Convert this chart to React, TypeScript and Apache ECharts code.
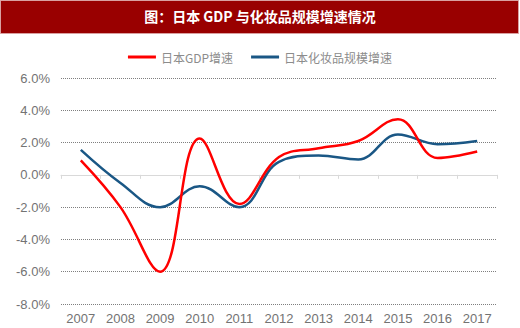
import React, { useEffect, useRef } from "react";
import * as echarts from "echarts";

const years = ["2007", "2008", "2009", "2010", "2011", "2012", "2013", "2014", "2015", "2016", "2017"];
const gdpGrowth = [0.9, -2.0, -6.0, 2.25, -1.8, 1.1, 1.65, 2.1, 3.45, 1.05, 1.45];
const cosmeticsGrowth = [1.55, -0.5, -2.0, -0.7, -2.0, 0.8, 1.2, 0.95, 2.5, 1.9, 2.1];
const titleText = "图：日本 GDP 与化妆品规模增速情况";
const seriesNames = ["日本GDP增速", "日本化妆品规模增速"];

export default function App() {
  const ref = useRef<HTMLDivElement>(null);
  useEffect(() => {
    if (!ref.current) return;
    const chart = echarts.init(ref.current, null, { renderer: "svg" });
    chart.setOption({
      animation: false,
      backgroundColor: "#ffffff",
      graphic: [
        { type: "rect", left: 0, top: 0, shape: { width: 518, height: 33 }, style: { fill: "#990000", stroke: "#d9a0a0", lineWidth: 1 } },
        {
          type: "text",
          left: "center",
          top: 9,
          style: { text: titleText, fill: "#ffffff", font: "bold 14px 'Noto Sans CJK SC', sans-serif" },
        },
      ],
      legend: {
        top: 46,
        left: "center",
        itemWidth: 28,
        itemHeight: 3,
        itemGap: 18,
        icon: "rect",
        textStyle: { color: "#8c8c8c", fontSize: 12, fontFamily: "'Noto Sans CJK SC', sans-serif" },
        data: seriesNames,
      },
      grid: { left: 61, right: 23, top: 78, bottom: 24, containLabel: false },
      xAxis: [
        {
          type: "category",
          data: years,
          position: "bottom",
          axisLine: { show: false, onZero: false },
          axisTick: { show: false },
          axisLabel: { color: "#737373", fontSize: 13, margin: 8, fontFamily: "'Liberation Sans', Arial, sans-serif" },
        },
        {
          type: "category",
          data: years,
          position: "top",
          axisLine: { show: true, onZero: true, lineStyle: { color: "#d9d9d9", width: 1 } },
          axisTick: { show: true, inside: true, length: 4, lineStyle: { color: "#d9d9d9" } },
          axisLabel: { show: false },
        },
      ],
      yAxis: {
        type: "value",
        min: -8,
        max: 6,
        interval: 2,
        axisLine: { show: false },
        axisTick: { show: false },
        axisLabel: {
          color: "#737373",
          fontSize: 13,
          margin: 11,
          fontFamily: "'Liberation Sans', Arial, sans-serif",
          formatter: (v: number) => v.toFixed(1) + "%",
        },
        splitLine: { lineStyle: { color: "#7f7f7f", type: "dotted", width: 1 } },
      },
      series: [
        {
          name: seriesNames[0],
          type: "line",
          data: gdpGrowth,
          smooth: 0.4,
          symbol: "none",
          lineStyle: { color: "#ff0000", width: 2.5 },
          itemStyle: { color: "#ff0000" },
          z: 3,
        },
        {
          name: seriesNames[1],
          type: "line",
          data: cosmeticsGrowth,
          smooth: 0.4,
          symbol: "none",
          lineStyle: { color: "#1a5785", width: 2.5 },
          itemStyle: { color: "#1a5785" },
          z: 2,
        },
      ],
    });
    return () => chart.dispose();
  }, []);
  return <div ref={ref} style={{ width: 520, height: 328, position: "absolute", left: 0, top: 0 }} />;
}
